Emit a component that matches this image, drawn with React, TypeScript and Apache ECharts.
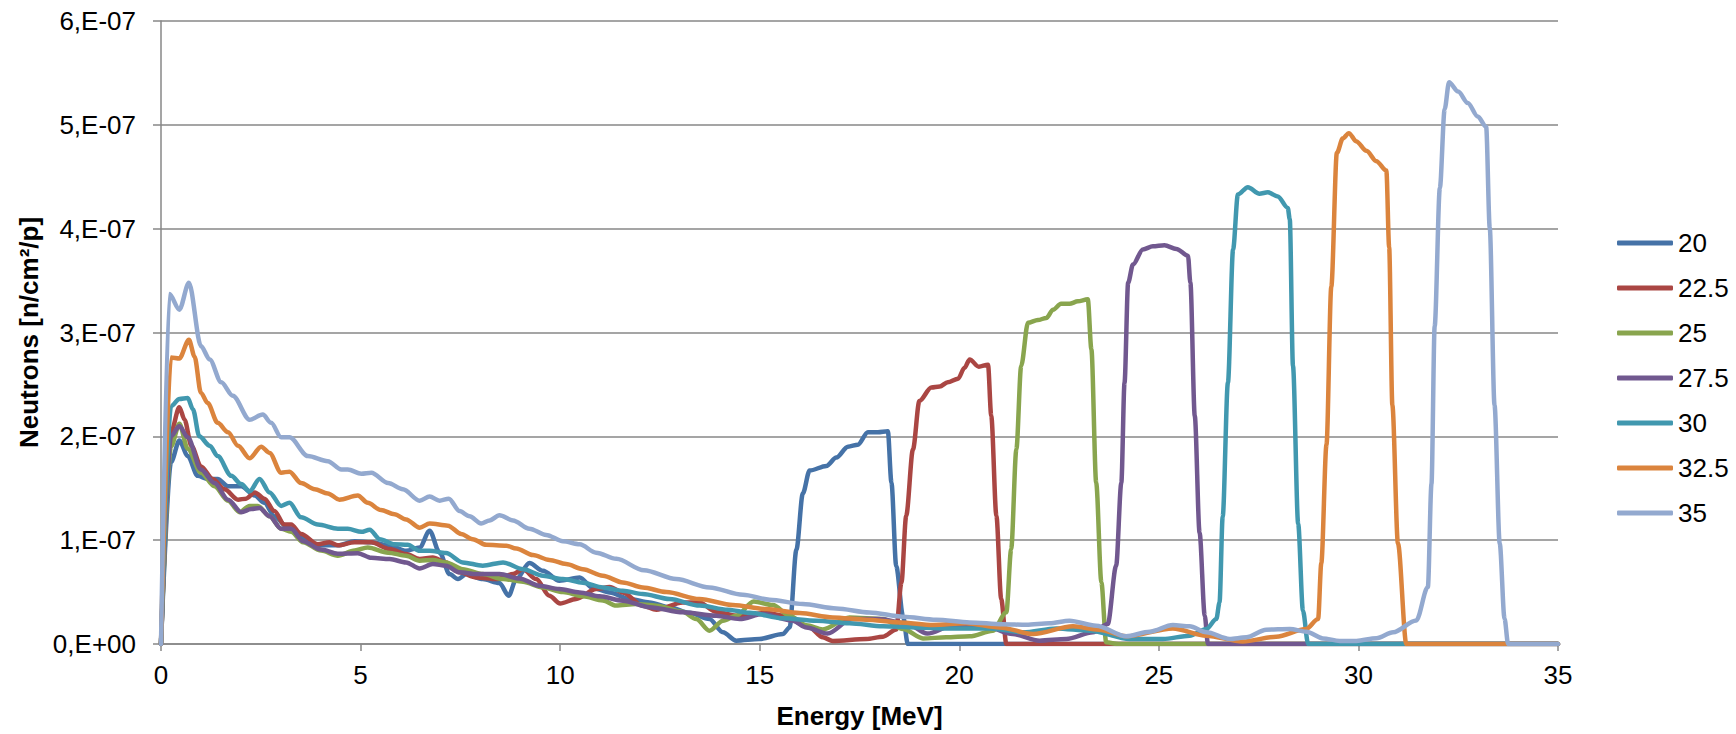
import React, { useEffect, useRef } from "react";
import * as echarts from "echarts";

// Values in units of 1e-7 n/cm²/p, as [Energy MeV, value]
const UNIT = 1e-7;
const SERIES_NAMES = ["20", "22.5", "25", "27.5", "30", "32.5", "35"];
const COLORS = ["#4572A7", "#AA4643", "#89A54E", "#71588F", "#4198AF", "#DB843D", "#93A9CF"];
const X_TICKS = [0, 5, 10, 15, 20, 25, 30, 35];
const Y_TICKS = [0, 1, 2, 3, 4, 5, 6];

const s20 = [[0,0],[0.25,1.75],[0.46,1.96],[0.67,1.81],[0.92,1.62],[1.17,1.59],[1.42,1.59],[1.68,1.52],[2.01,1.52],[2.35,1.43],[2.59,1.36],[2.84,1.23],[3.18,1.12],[3.51,1.03],[3.93,0.95],[4.43,0.95],[4.85,0.99],[5.27,0.98],[5.73,0.946],[6.14,0.898],[6.48,0.93],[6.73,1.09],[6.98,0.88],[7.23,0.673],[7.44,0.625],[7.65,0.673],[8.06,0.625],[8.48,0.587],[8.71,0.465],[8.9,0.625],[9.23,0.779],[9.57,0.705],[9.98,0.609],[10.49,0.641],[10.82,0.54],[11.24,0.497],[11.74,0.433],[12.24,0.4],[12.74,0.353],[13.24,0.3],[13.74,0.24],[14.08,0.112],[14.41,0.032],[14.99,0.048],[15.58,0.096],[15.75,0.16],[15.92,0.91],[16.08,1.45],[16.25,1.67],[16.67,1.715],[16.92,1.795],[17.21,1.9],[17.46,1.92],[17.71,2.04],[17.96,2.04],[18.21,2.05],[18.3,1.555],[18.42,0.75],[18.59,0.27],[18.71,0],[19,0],[35,0]];
const s225 = [[0,0],[0.25,2.04],[0.46,2.28],[0.59,2.16],[0.76,1.91],[1.0,1.71],[1.3,1.59],[1.59,1.49],[1.93,1.39],[2.13,1.4],[2.35,1.46],[2.59,1.4],[2.84,1.28],[3.09,1.15],[3.26,1.15],[3.51,1.06],[3.93,0.96],[4.22,0.98],[4.43,0.95],[4.85,0.98],[5.27,0.98],[5.73,0.914],[6.14,0.866],[6.48,0.818],[6.81,0.834],[7.14,0.786],[7.48,0.69],[7.9,0.641],[8.4,0.625],[8.82,0.673],[9.07,0.72],[9.4,0.625],[9.73,0.465],[10.0,0.39],[10.4,0.433],[10.9,0.53],[11.24,0.55],[11.57,0.497],[12.07,0.369],[12.41,0.33],[13.07,0.4],[13.49,0.4],[13.91,0.31],[14.41,0.272],[15.16,0.3],[15.58,0.272],[16.25,0.16],[16.58,0.064],[16.83,0.03],[17.67,0.048],[18.09,0.07],[18.42,0.14],[18.55,0.59],[18.67,1.235],[18.84,1.875],[19.0,2.34],[19.3,2.47],[19.51,2.48],[19.71,2.52],[19.97,2.555],[20.13,2.66],[20.26,2.74],[20.49,2.67],[20.72,2.69],[20.8,2.2],[20.93,1.235],[21.05,0.433],[21.18,0],[21.5,0],[35,0]];
const s25 = [[0,0],[0.25,1.9],[0.46,2.12],[0.67,1.88],[1.0,1.65],[1.34,1.52],[1.68,1.38],[1.97,1.27],[2.22,1.33],[2.43,1.33],[2.72,1.23],[3.01,1.11],[3.26,1.08],[3.56,0.98],[4.01,0.9],[4.43,0.85],[4.85,0.9],[5.18,0.93],[5.69,0.88],[6.14,0.85],[6.48,0.802],[6.81,0.81],[7.14,0.786],[7.56,0.72],[8.06,0.673],[8.57,0.625],[9.07,0.6],[9.57,0.545],[10.07,0.5],[10.57,0.46],[11.07,0.42],[11.4,0.37],[11.9,0.385],[12.41,0.369],[13.07,0.31],[13.41,0.24],[13.74,0.128],[14.08,0.224],[14.41,0.272],[14.85,0.41],[15.33,0.375],[15.75,0.272],[16.17,0.18],[16.58,0.14],[17.25,0.256],[18.09,0.24],[18.59,0.144],[19.09,0.054],[19.67,0.064],[20.26,0.074],[20.84,0.128],[21.18,0.305],[21.3,0.913],[21.43,1.875],[21.55,2.677],[21.72,3.093],[21.97,3.12],[22.18,3.14],[22.35,3.22],[22.55,3.276],[22.76,3.276],[22.97,3.3],[23.22,3.32],[23.31,2.837],[23.43,1.555],[23.56,0.593],[23.68,0.016],[24,0],[35,0]];
const s275 = [[0,0],[0.25,2.0],[0.46,2.1],[0.67,1.99],[1.0,1.68],[1.34,1.55],[1.68,1.39],[2.01,1.27],[2.26,1.3],[2.47,1.31],[2.72,1.23],[3.01,1.11],[3.26,1.11],[3.56,0.99],[4.01,0.91],[4.43,0.87],[4.93,0.875],[5.27,0.83],[5.73,0.818],[6.14,0.786],[6.48,0.728],[6.81,0.77],[7.14,0.754],[7.48,0.69],[7.9,0.673],[8.48,0.673],[8.98,0.631],[9.48,0.561],[9.98,0.529],[10.49,0.497],[10.99,0.459],[11.57,0.417],[12.24,0.355],[13.08,0.305],[13.91,0.272],[14.5,0.24],[15.08,0.289],[15.83,0.224],[16.17,0.16],[16.7,0.1],[17.3,0.24],[18.0,0.24],[18.67,0.2],[19.2,0.1],[19.85,0.18],[20.62,0.176],[21.34,0.096],[22.01,0.032],[22.68,0.048],[23.35,0.112],[23.72,0.192],[23.93,0.753],[24.06,1.555],[24.14,2.516],[24.23,3.478],[24.35,3.654],[24.6,3.8],[24.85,3.83],[25.14,3.84],[25.44,3.805],[25.73,3.74],[25.79,3.478],[25.9,2.196],[26.02,1.074],[26.15,0.272],[26.23,0],[26.6,0],[35,0]];
const s30 = [[0,0],[0.25,2.29],[0.46,2.36],[0.67,2.37],[0.8,2.26],[0.96,2.0],[1.22,1.91],[1.42,1.81],[1.76,1.62],[2.01,1.54],[2.22,1.47],[2.47,1.59],[2.72,1.46],[3.01,1.33],[3.22,1.36],[3.51,1.22],[3.93,1.15],[4.43,1.11],[4.68,1.11],[5.02,1.08],[5.23,1.1],[5.48,1.01],[5.85,0.96],[6.18,0.955],[6.48,0.898],[6.73,0.898],[7.14,0.876],[7.56,0.786],[8.06,0.754],[8.57,0.786],[9.07,0.72],[9.57,0.657],[10.07,0.625],[10.57,0.59],[11.07,0.545],[11.57,0.513],[12.07,0.481],[12.74,0.433],[13.5,0.37],[14.2,0.33],[14.75,0.3],[15.58,0.247],[16.42,0.224],[17.25,0.2],[18.09,0.17],[18.92,0.16],[19.76,0.15],[20.76,0.15],[21.6,0.112],[22.43,0.15],[23.27,0.128],[24.27,0.048],[25.1,0.048],[25.77,0.08],[26.19,0.144],[26.44,0.24],[26.52,0.4],[26.6,1.23],[26.73,2.516],[26.86,3.8],[26.98,4.33],[27.23,4.4],[27.52,4.337],[27.73,4.35],[27.98,4.31],[28.23,4.2],[28.28,4.09],[28.36,2.68],[28.49,1.16],[28.61,0.32],[28.74,0],[29.1,0],[35,0]];
const s325 = [[0,0],[0.25,2.76],[0.46,2.75],[0.7,2.93],[0.84,2.77],[1.0,2.42],[1.17,2.32],[1.42,2.13],[1.68,2.04],[1.93,1.91],[2.22,1.79],[2.51,1.9],[2.72,1.84],[3.01,1.65],[3.22,1.66],[3.51,1.55],[3.85,1.49],[4.18,1.45],[4.47,1.39],[4.93,1.43],[5.18,1.36],[5.51,1.29],[5.85,1.25],[6.14,1.2],[6.48,1.12],[6.73,1.16],[7.19,1.14],[7.52,1.06],[7.81,1.01],[8.15,0.955],[8.65,0.946],[8.9,0.92],[9.32,0.856],[9.73,0.81],[10.15,0.77],[10.57,0.72],[11.07,0.657],[11.57,0.593],[12.07,0.545],[12.66,0.5],[13.49,0.433],[14.33,0.375],[15.16,0.337],[16.0,0.298],[16.83,0.256],[17.67,0.234],[18.5,0.208],[19.34,0.183],[20.17,0.2],[21.01,0.16],[21.85,0.096],[22.85,0.17],[23.5,0.138],[24.18,0.074],[25.35,0.15],[26.19,0.08],[27.1,0.023],[27.94,0.07],[28.69,0.144],[28.99,0.24],[29.07,0.78],[29.2,1.92],[29.32,3.44],[29.46,4.73],[29.61,4.87],[29.76,4.92],[29.95,4.84],[30.2,4.75],[30.45,4.65],[30.7,4.56],[30.77,3.82],[30.85,2.3],[30.99,0.97],[31.2,0],[31.6,0],[35,0]];
const s35 = [[0,0],[0.21,3.37],[0.46,3.22],[0.7,3.48],[1.0,2.87],[1.22,2.74],[1.51,2.52],[1.8,2.39],[2.22,2.16],[2.55,2.21],[2.76,2.13],[3.01,1.99],[3.22,1.99],[3.68,1.81],[4.18,1.76],[4.52,1.68],[4.68,1.68],[5.02,1.64],[5.27,1.65],[5.69,1.55],[6.06,1.49],[6.48,1.38],[6.73,1.42],[6.98,1.38],[7.21,1.4],[7.48,1.28],[7.73,1.23],[8.02,1.16],[8.23,1.19],[8.48,1.24],[8.82,1.19],[9.23,1.11],[9.65,1.05],[10.07,0.99],[10.49,0.96],[10.9,0.88],[11.41,0.82],[12.1,0.71],[12.91,0.625],[13.74,0.545],[14.58,0.474],[15.25,0.426],[16.08,0.385],[16.92,0.343],[17.75,0.304],[18.59,0.263],[19.42,0.234],[20.26,0.208],[21.09,0.19],[21.68,0.185],[22.26,0.2],[22.76,0.225],[23.43,0.176],[24.18,0.074],[24.77,0.119],[25.35,0.183],[25.77,0.17],[26.19,0.112],[26.77,0.048],[27.19,0.064],[27.69,0.138],[28.28,0.144],[28.7,0.119],[29.11,0.054],[29.53,0.03],[29.95,0.03],[30.45,0.056],[30.87,0.113],[31.45,0.227],[31.74,0.55],[31.83,1.54],[31.91,3.06],[32.04,4.39],[32.16,5.15],[32.27,5.41],[32.5,5.32],[32.74,5.21],[32.99,5.08],[33.2,4.98],[33.29,4.01],[33.41,2.3],[33.54,0.97],[33.66,0.245],[33.75,0],[34.1,0],[35,0]];

const SERIES_DATA = [s20, s225, s25, s275, s30, s325, s35];

const FONT = "'Liberation Sans', Arial, sans-serif";
const GRID_COLOR = "#878787";

export default function App() {
  const ref = useRef<HTMLDivElement>(null);
  useEffect(() => {
    if (!ref.current) return;
    const chart = echarts.init(ref.current, null, { renderer: "svg" });
    chart.setOption({
      animation: false,
      backgroundColor: "#ffffff",
      textStyle: { fontFamily: FONT },
      grid: { left: 161, right: 178, top: 21, bottom: 89, containLabel: false },
      legend: {
        orient: "vertical",
        left: 1612,
        top: 225,
        itemWidth: 56,
        itemHeight: 5,
        itemGap: 19,
        icon: "roundRect",
        data: SERIES_NAMES,
        textStyle: { fontSize: 26, color: "#000", fontFamily: FONT, lineHeight: 26 },
      },
      xAxis: {
        type: "value",
        min: X_TICKS[0],
        max: X_TICKS[X_TICKS.length - 1],
        interval: 5,
        name: "Energy [MeV]",
        nameLocation: "middle",
        nameGap: 59,
        nameTextStyle: { fontSize: 26, fontWeight: "bold", color: "#000", fontFamily: FONT },
        axisLine: { lineStyle: { color: GRID_COLOR, width: 1.5 } },
        axisTick: { show: true, length: 7, lineStyle: { color: GRID_COLOR, width: 1.5 } },
        axisLabel: { fontSize: 26, color: "#000", margin: 18, fontFamily: FONT },
        splitLine: { show: false },
      },
      yAxis: {
        type: "value",
        min: Y_TICKS[0] * UNIT,
        max: Y_TICKS[Y_TICKS.length - 1] * UNIT,
        interval: UNIT,
        name: "Neutrons [n/cm²/p]",
        nameLocation: "middle",
        nameGap: 117,
        nameTextStyle: { fontSize: 26, fontWeight: "bold", color: "#000", fontFamily: FONT },
        axisLine: { show: true, lineStyle: { color: GRID_COLOR, width: 1.5 } },
        axisTick: { show: true, length: 8, lineStyle: { color: GRID_COLOR, width: 1.5 } },
        axisLabel: {
          fontSize: 26,
          color: "#000",
          margin: 25,
          fontFamily: FONT,
          formatter: (v: number) => {
            const m = Math.round(v / UNIT);
            return m === 0 ? "0,E+00" : `${m},E-07`;
          },
        },
        splitLine: { show: true, lineStyle: { color: GRID_COLOR, width: 1.5 } },
      },
      series: SERIES_NAMES.map((name, i) => ({
        name,
        type: "line",
        data: SERIES_DATA[i].map(([e, v]) => [e, v * UNIT]),
        smooth: 0.3,
        smoothMonotone: "x",
        symbol: "none",
        color: COLORS[i],
        itemStyle: { color: COLORS[i] },
        lineStyle: { width: 4.5, color: COLORS[i], cap: "round", join: "round" },
        clip: true,
      })),
    });
    return () => chart.dispose();
  }, []);
  return (
    <div
      ref={ref}
      style={{ position: "fixed", left: 0, top: 0, width: 1736, height: 734, background: "#fff" }}
    />
  );
}
